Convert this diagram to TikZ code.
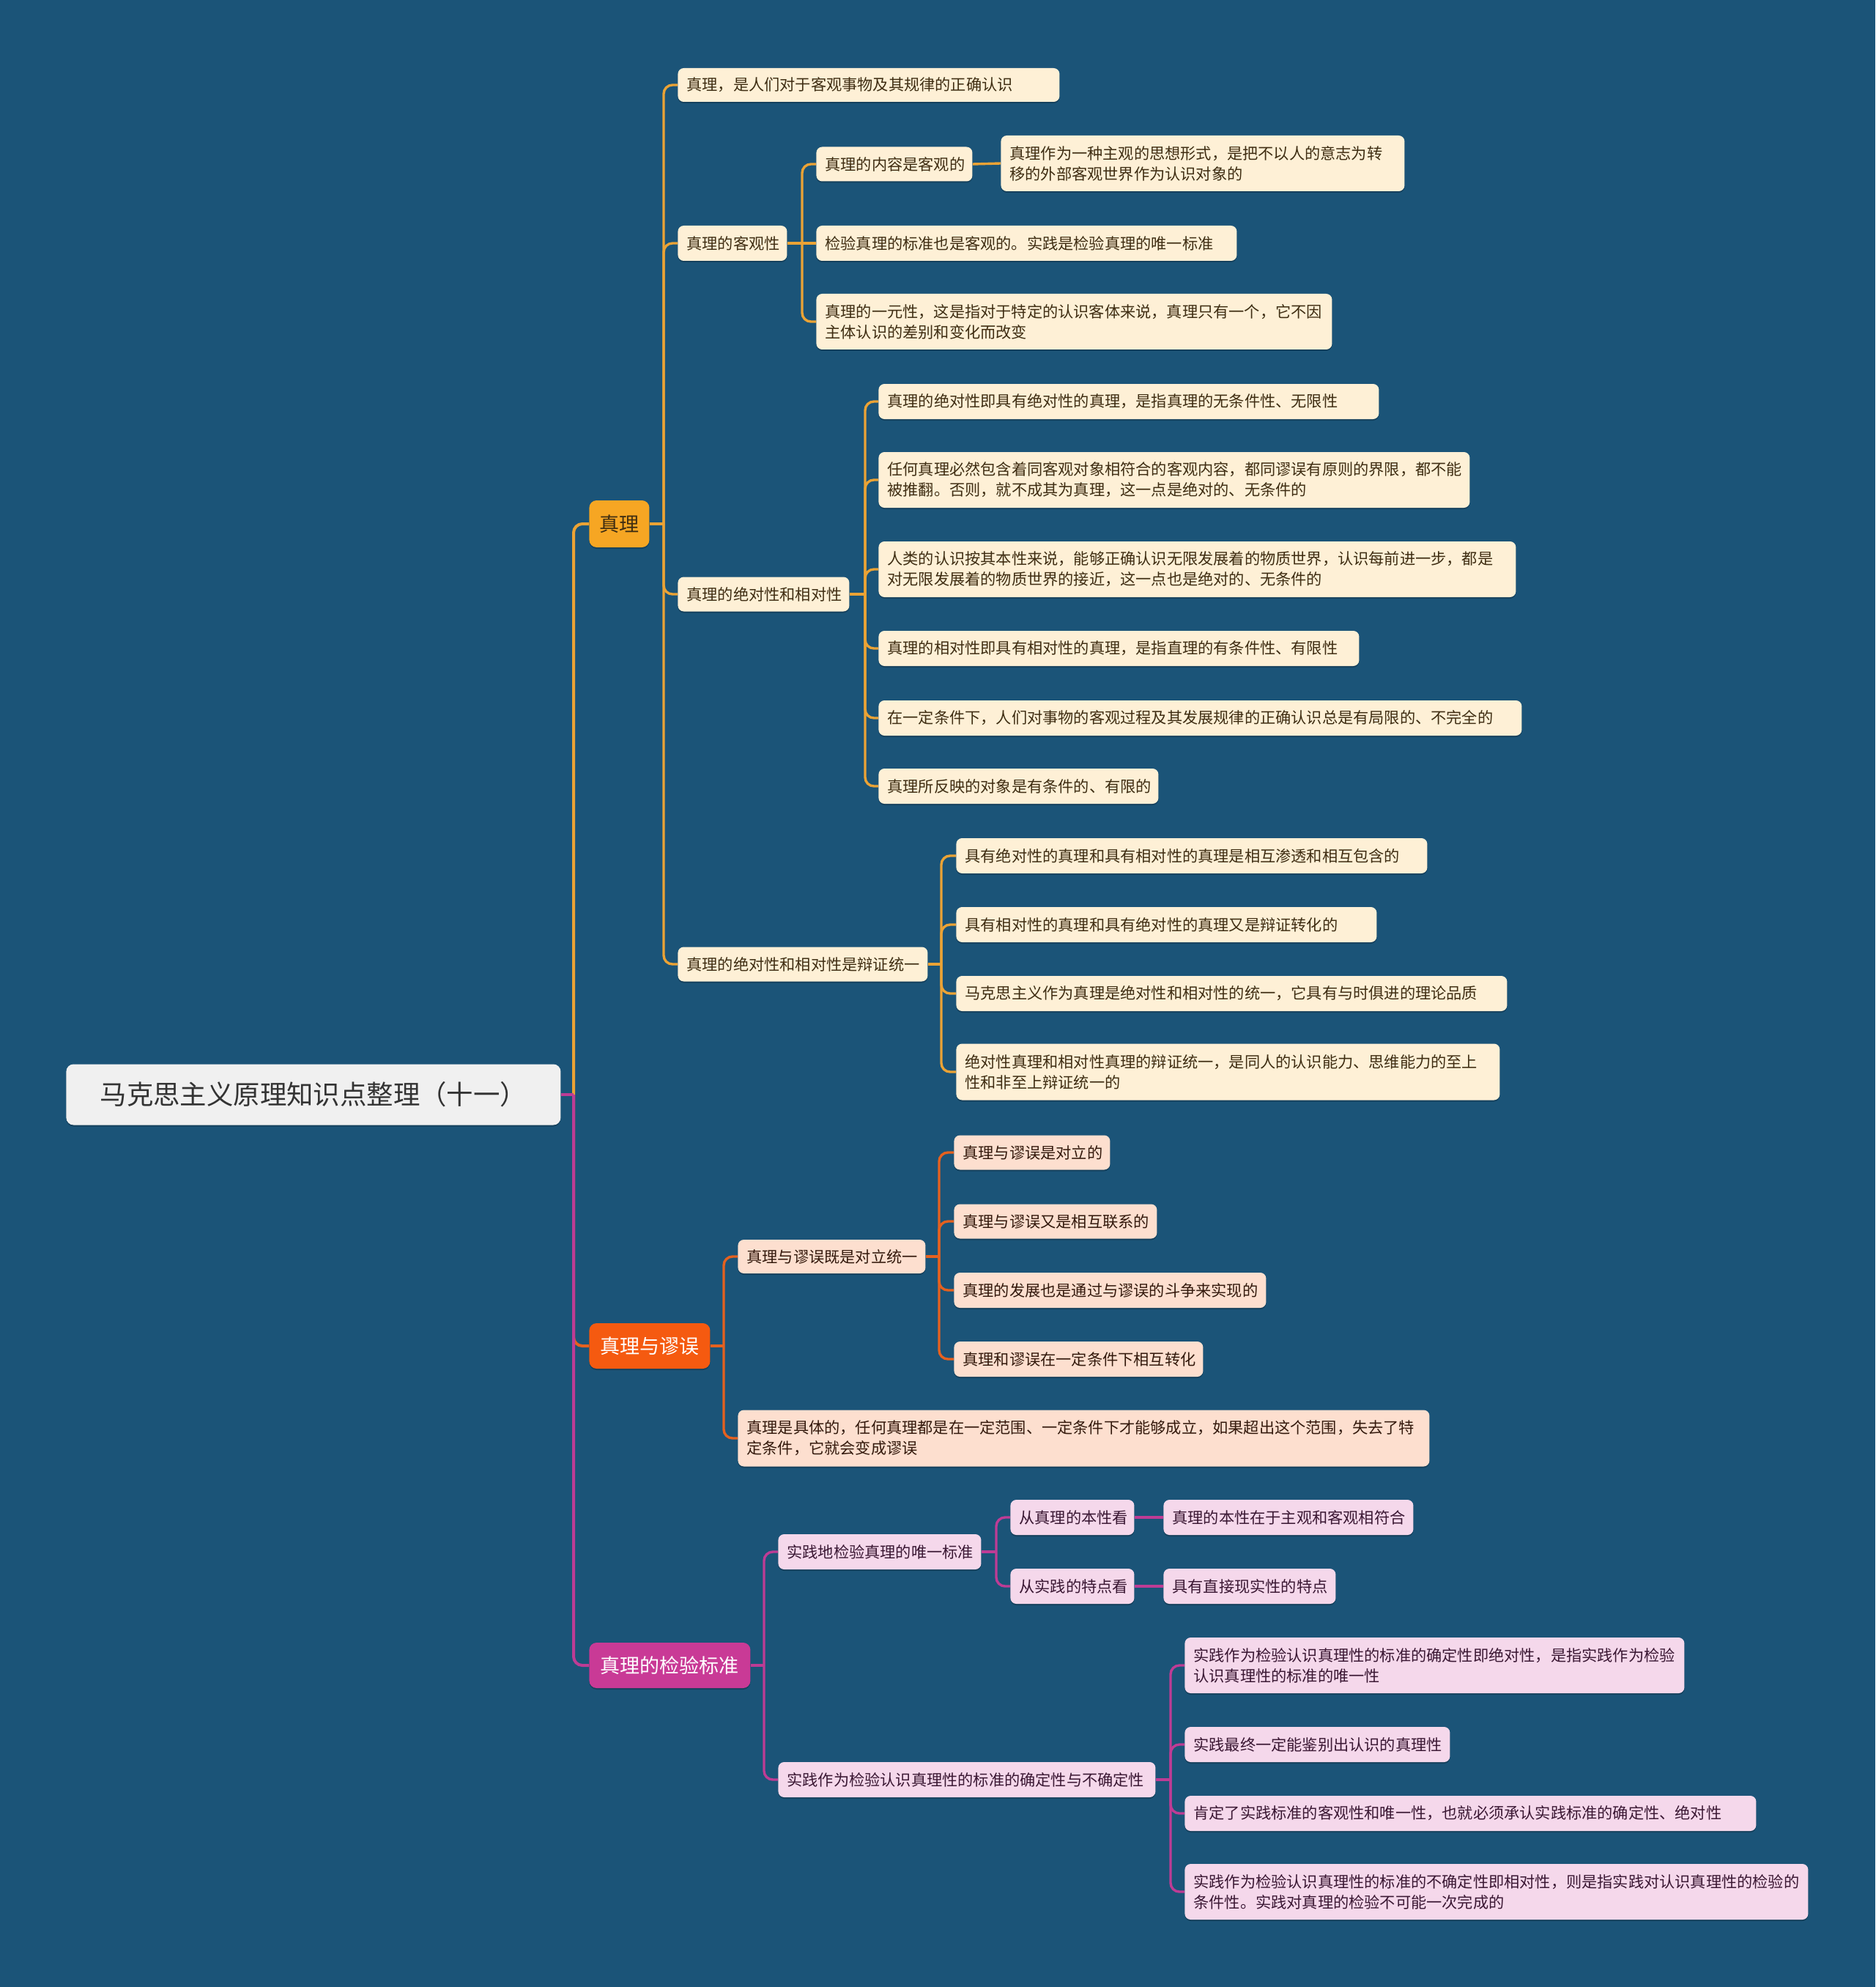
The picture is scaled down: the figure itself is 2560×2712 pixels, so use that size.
\documentclass[tikz,border=0pt]{standalone}
\usepackage{fontspec}
\setmainfont{Noto Sans CJK SC}
\definecolor{bgc}{HTML}{1B5478}
\definecolor{lnT}{HTML}{EBA335}
\definecolor{lnM}{HTML}{E5611F}
\definecolor{lnS}{HTML}{BE3C95}
\definecolor{fT}{HTML}{F6A623}
\definecolor{fM}{HTML}{F55A10}
\definecolor{fS}{HTML}{C93A96}
\definecolor{cT}{HTML}{FEF0D6}
\definecolor{cM}{HTML}{FDDFCF}
\definecolor{cS}{HTML}{F5D8EB}
\definecolor{tT}{HTML}{3E2D12}
\definecolor{tM}{HTML}{33190C}
\definecolor{tS}{HTML}{3A1733}
\pgfdeclarelayer{bg}
\pgfdeclarelayer{lines}
\pgfsetlayers{bg,lines,main}
\newcommand\mmbox[8]{%
  \node[#2, minimum width=#6*0.5pt, minimum height=#7*0.5pt, anchor=west] (#1) at (#4,#5) {};
  \node[#3, anchor=west] (#1t) at ([xshift=6pt]#1.west) {#8};
}
\newcommand\mmconn[4]{%
  \draw[#1] (#2.east) -- (#3 |- #2.east);
  \draw[#1, rounded corners=6pt] (#3 |- #2.east) -- (#3 |- #4.west) -- (#4.west);
}
\begin{document}
\begin{tikzpicture}[x=0.5pt,y=-0.5pt,
  shad/.style={preaction={fill=black, opacity=0.22, transform canvas={yshift=-1pt}}},
  boxT/.style={fill=cT, rounded corners=4pt, inner sep=0pt, shad},
  boxM/.style={fill=cM, rounded corners=4pt, inner sep=0pt, shad},
  boxS/.style={fill=cS, rounded corners=4pt, inner sep=0pt, shad},
  txtT/.style={inner sep=0pt, align=left, text=tT, font=\fontsize{10.6pt}{14pt}\selectfont},
  txtM/.style={inner sep=0pt, align=left, text=tM, font=\fontsize{10.6pt}{14pt}\selectfont},
  txtS/.style={inner sep=0pt, align=left, text=tS, font=\fontsize{10.6pt}{14pt}\selectfont},
  mainbox/.style={rounded corners=5pt, inner sep=0pt, anchor=west, shad, font=\fontsize{13.5pt}{16pt}\selectfont},
  lT/.style={draw=lnT, line width=1.7pt},
  lM/.style={draw=lnM, line width=1.7pt},
  lS/.style={draw=lnS, line width=1.7pt},
  lTm/.style={draw=lnT, line width=2pt},
  lMm/.style={draw=lnM, line width=2pt},
  lSm/.style={draw=lnS, line width=2pt}]
\useasboundingbox (0,0) rectangle (2560,2712);
\begin{pgfonlayer}{bg}
\fill[bgc] (0,0) rectangle (2560,2712);
\end{pgfonlayer}

% root and main branches
\node[fill=white!94!black, rounded corners=5pt, shad, minimum width=337.5pt, minimum height=41.5pt, anchor=west, inner sep=0pt, text=black!80, font=\fontsize{18.2pt}{21pt}\selectfont] (R) at (90,1494) {马克思主义原理知识点整理（十一）};
\node[mainbox, fill=fT, text=tT, minimum width=41pt, minimum height=32pt] (T) at (804,715) {真理};
\node[mainbox, fill=fM, text=white, minimum width=82.5pt, minimum height=31pt] (M) at (804,1837) {真理与谬误};
\node[mainbox, fill=fS, text=white, minimum width=110pt, minimum height=31pt] (S) at (804,2273) {真理的检验标准};

% bus coordinates
\coordinate (vR) at (783,0);
\coordinate (vT) at (906,0);
\coordinate (vA2) at (1095,0);
\coordinate (vA3) at (1181,0);
\coordinate (vA4) at (1285,0);
\coordinate (vM) at (988,0);
\coordinate (vF1) at (1282,0);
\coordinate (vS) at (1043,0);
\coordinate (vH1) at (1360,0);
\coordinate (vH2) at (1598,0);

% 真理 branch
\mmbox{A1}{boxT}{txtT}{925}{116}{521}{46}{真理，是人们对于客观事物及其规律的正确认识}
\mmbox{A2}{boxT}{txtT}{925}{332}{149}{48}{真理的客观性}
\mmbox{A3}{boxT}{txtT}{925}{811}{234}{47}{真理的绝对性和相对性}
\mmbox{A4}{boxT}{txtT}{925}{1316}{341}{47}{真理的绝对性和相对性是辩证统一}
\mmbox{B1}{boxT}{txtT}{1114}{224}{213}{47}{真理的内容是客观的}
\mmbox{C1}{boxT}{txtT}{1366}{223}{551}{76}{真理作为一种主观的思想形式，是把不以人的意志为转\\移的外部客观世界作为认识对象的}
\mmbox{B2}{boxT}{txtT}{1114}{332}{574}{48}{检验真理的标准也是客观的。实践是检验真理的唯一标准}
\mmbox{B3}{boxT}{txtT}{1114}{439}{704}{76}{真理的一元性，这是指对于特定的认识客体来说，真理只有一个，它不因\\主体认识的差别和变化而改变}
\mmbox{D1}{boxT}{txtT}{1199}{548}{683}{48}{真理的绝对性即具有绝对性的真理，是指真理的无条件性、无限性}
\mmbox{D2}{boxT}{txtT}{1199}{655}{807}{76}{任何真理必然包含着同客观对象相符合的客观内容，都同谬误有原则的界限，都不能\\被推翻。否则，就不成其为真理，这一点是绝对的、无条件的}
\mmbox{D3}{boxT}{txtT}{1199}{777}{870}{76}{人类的认识按其本性来说，能够正确认识无限发展着的物质世界，认识每前进一步，都是\\对无限发展着的物质世界的接近，这一点也是绝对的、无条件的}
\mmbox{D4}{boxT}{txtT}{1199}{885}{656}{48}{真理的相对性即具有相对性的真理，是指直理的有条件性、有限性}
\mmbox{D5}{boxT}{txtT}{1199}{980}{878}{48}{在一定条件下，人们对事物的客观过程及其发展规律的正确认识总是有局限的、不完全的}
\mmbox{D6}{boxT}{txtT}{1199}{1073}{382}{48}{真理所反映的对象是有条件的、有限的}
\mmbox{E1}{boxT}{txtT}{1305}{1168}{643}{48}{具有绝对性的真理和具有相对性的真理是相互渗透和相互包含的}
\mmbox{E2}{boxT}{txtT}{1305}{1262}{574}{48}{具有相对性的真理和具有绝对性的真理又是辩证转化的}
\mmbox{E3}{boxT}{txtT}{1305}{1356}{752}{48}{马克思主义作为真理是绝对性和相对性的统一，它具有与时俱进的理论品质}
\mmbox{E4}{boxT}{txtT}{1305}{1463}{742}{77}{绝对性真理和相对性真理的辩证统一，是同人的认识能力、思维能力的至上\\性和非至上辩证统一的}

% 真理与谬误 branch
\mmbox{F1}{boxM}{txtM}{1007}{1715}{256}{46}{真理与谬误既是对立统一}
\mmbox{F2}{boxM}{txtM}{1007}{1963}{944}{77}{真理是具体的，任何真理都是在一定范围、一定条件下才能够成立，如果超出这个范围，失去了特\\定条件，它就会变成谬误}
\mmbox{G1}{boxM}{txtM}{1302}{1573}{213}{47}{真理与谬误是对立的}
\mmbox{G2}{boxM}{txtM}{1302}{1667}{277}{47}{真理与谬误又是相互联系的}
\mmbox{G3}{boxM}{txtM}{1302}{1761}{426}{48}{真理的发展也是通过与谬误的斗争来实现的}
\mmbox{G4}{boxM}{txtM}{1302}{1855}{340}{48}{真理和谬误在一定条件下相互转化}

% 真理的检验标准 branch
\mmbox{H1}{boxS}{txtS}{1062}{2118}{277}{48}{实践地检验真理的唯一标准}
\mmbox{H2}{boxS}{txtS}{1062}{2429}{515}{48}{实践作为检验认识真理性的标准的确定性与不确定性}
\mmbox{I1}{boxS}{txtS}{1379}{2071}{169}{48}{从真理的本性看}
\mmbox{I2}{boxS}{txtS}{1379}{2165}{169}{48}{从实践的特点看}
\mmbox{J1}{boxS}{txtS}{1588}{2071}{341}{48}{真理的本性在于主观和客观相符合}
\mmbox{J2}{boxS}{txtS}{1588}{2165}{235}{48}{具有直接现实性的特点}
\mmbox{K1}{boxS}{txtS}{1617}{2273}{682}{76}{实践作为检验认识真理性的标准的确定性即绝对性，是指实践作为检验\\认识真理性的标准的唯一性}
\mmbox{K2}{boxS}{txtS}{1617}{2381}{362}{48}{实践最终一定能鉴别出认识的真理性}
\mmbox{K3}{boxS}{txtS}{1617}{2475}{780}{48}{肯定了实践标准的客观性和唯一性，也就必须承认实践标准的确定性、绝对性}
\mmbox{K4}{boxS}{txtS}{1617}{2582}{851}{76}{实践作为检验认识真理性的标准的不确定性即相对性，则是指实践对认识真理性的检验的\\条件性。实践对真理的检验不可能一次完成的}

\begin{pgfonlayer}{lines}
\mmconn{lTm}{R}{vR}{T}
\mmconn{lMm}{R}{vR}{M}
\mmconn{lSm}{R}{vR}{S}
% 真理
\mmconn{lT}{T}{vT}{A1}
\mmconn{lT}{T}{vT}{A2}
\mmconn{lT}{T}{vT}{A3}
\mmconn{lT}{T}{vT}{A4}
\mmconn{lT}{A2}{vA2}{B1}
\draw[lT] (A2.east) -- (B2.west);
\mmconn{lT}{A2}{vA2}{B3}
\draw[lT] (B1.east) -- (C1.west);
\mmconn{lT}{A3}{vA3}{D1}
\mmconn{lT}{A3}{vA3}{D2}
\mmconn{lT}{A3}{vA3}{D3}
\mmconn{lT}{A3}{vA3}{D4}
\mmconn{lT}{A3}{vA3}{D5}
\mmconn{lT}{A3}{vA3}{D6}
\mmconn{lT}{A4}{vA4}{E1}
\mmconn{lT}{A4}{vA4}{E2}
\mmconn{lT}{A4}{vA4}{E3}
\mmconn{lT}{A4}{vA4}{E4}
% 真理与谬误
\mmconn{lM}{M}{vM}{F1}
\mmconn{lM}{M}{vM}{F2}
\mmconn{lM}{F1}{vF1}{G1}
\mmconn{lM}{F1}{vF1}{G2}
\mmconn{lM}{F1}{vF1}{G3}
\mmconn{lM}{F1}{vF1}{G4}
% 检验标准
\mmconn{lS}{S}{vS}{H1}
\mmconn{lS}{S}{vS}{H2}
\mmconn{lS}{H1}{vH1}{I1}
\mmconn{lS}{H1}{vH1}{I2}
\draw[lS] (I1.east) -- (J1.west);
\draw[lS] (I2.east) -- (J2.west);
\mmconn{lS}{H2}{vH2}{K1}
\mmconn{lS}{H2}{vH2}{K2}
\mmconn{lS}{H2}{vH2}{K3}
\mmconn{lS}{H2}{vH2}{K4}
\end{pgfonlayer}
\end{tikzpicture}
\end{document}
